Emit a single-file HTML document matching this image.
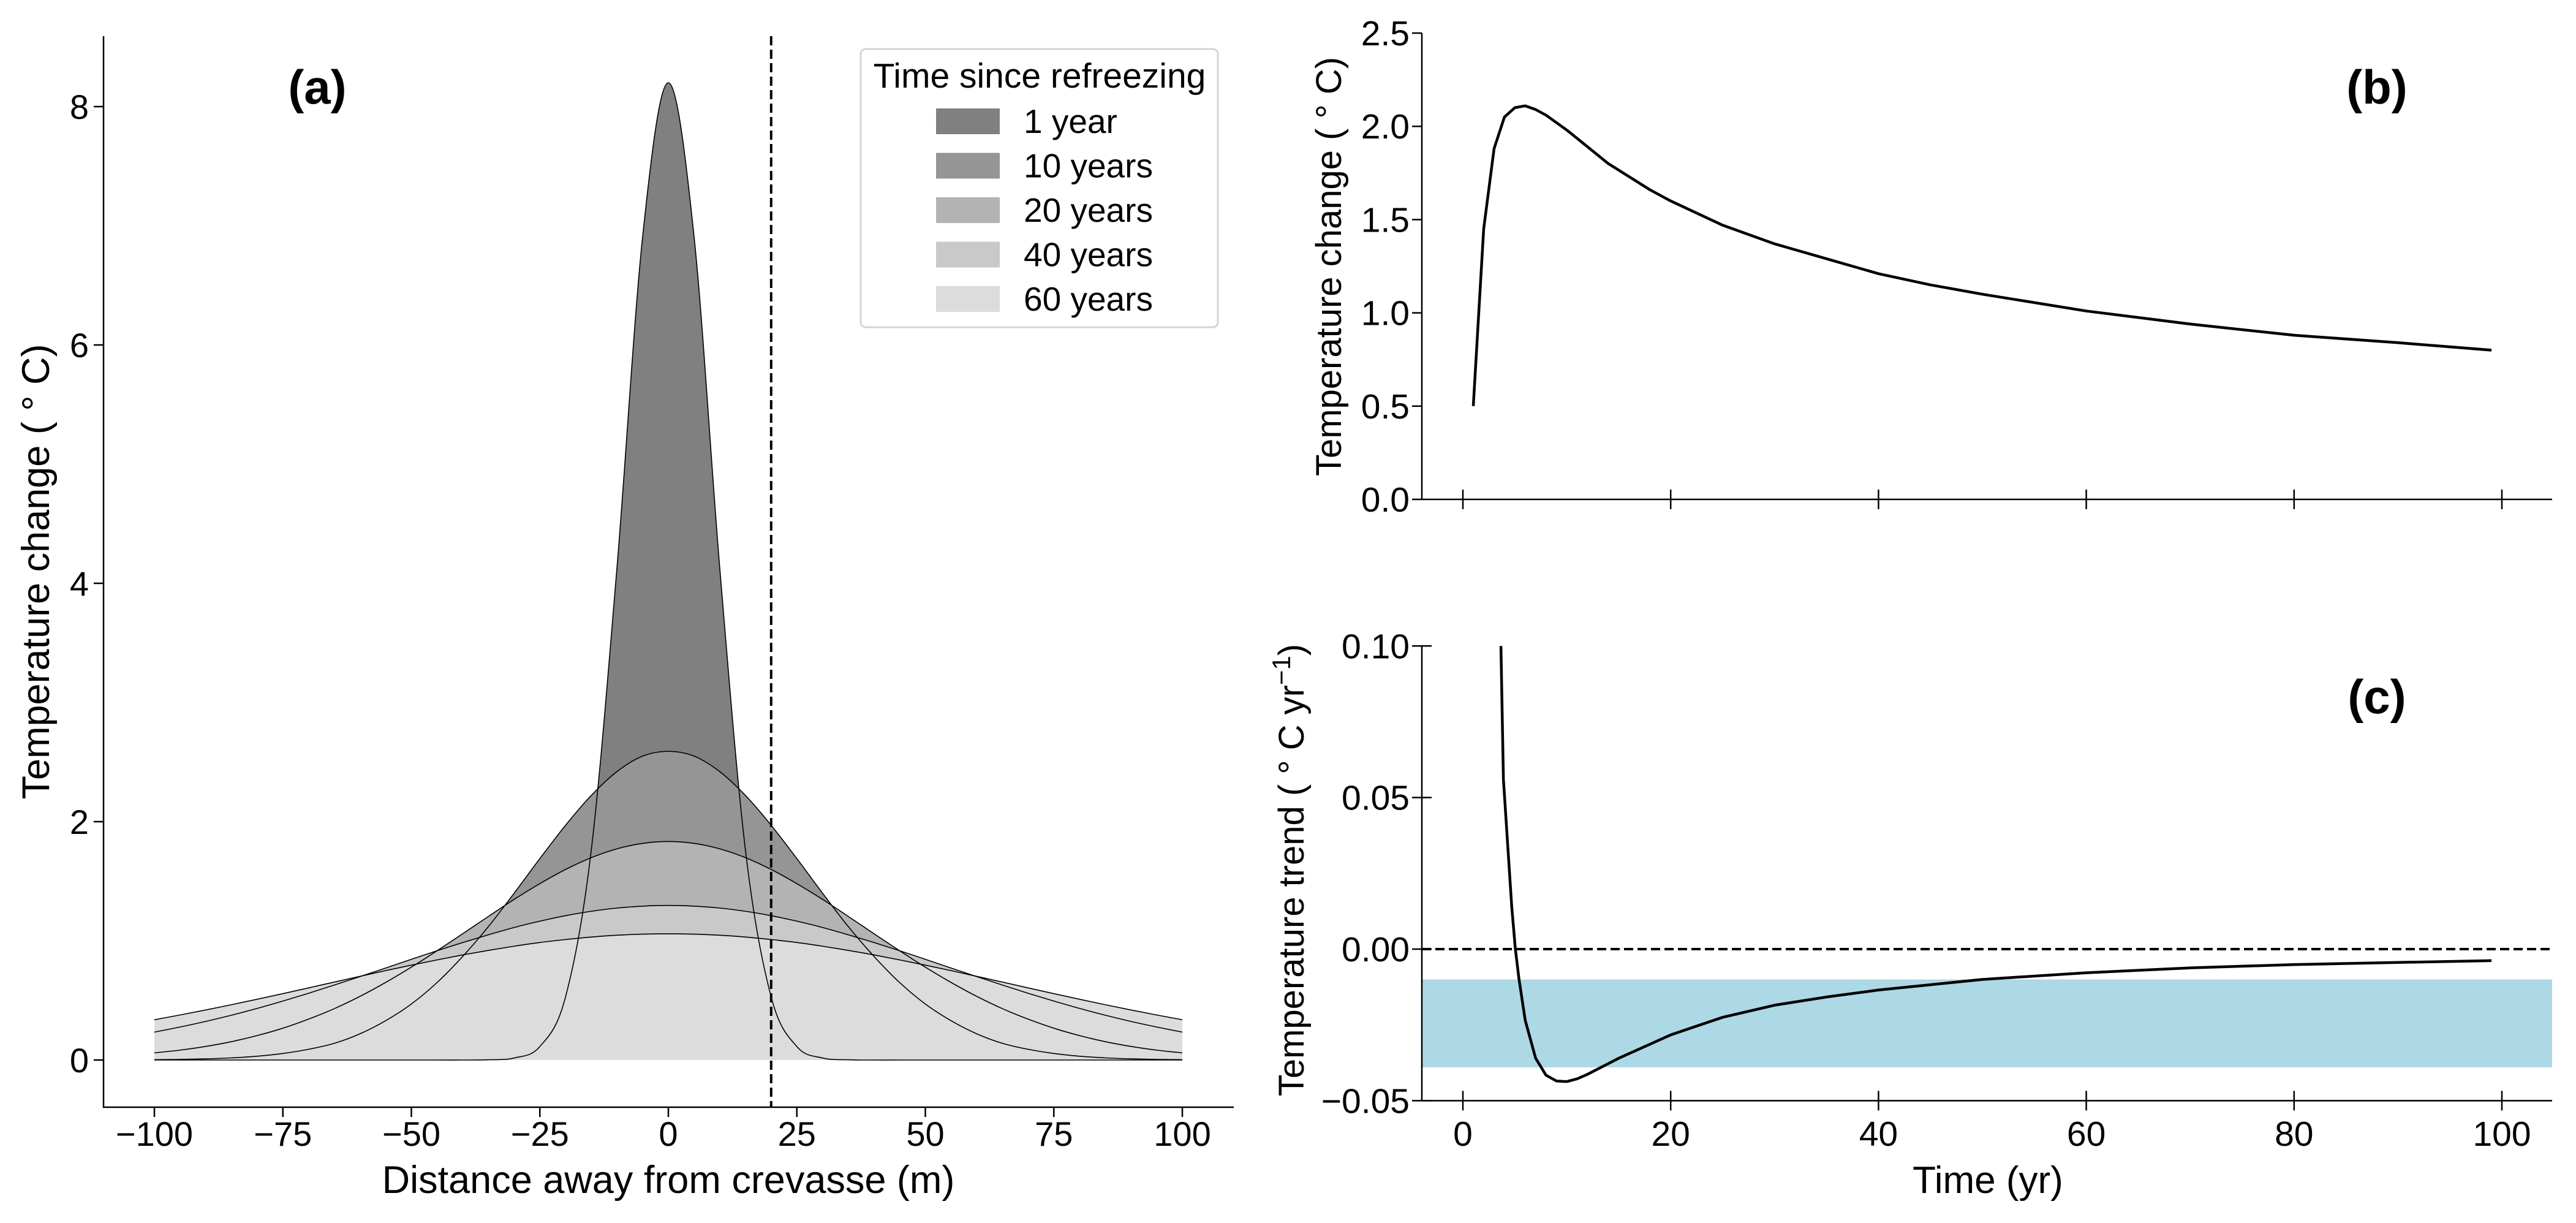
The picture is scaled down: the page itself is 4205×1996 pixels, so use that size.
<!DOCTYPE html>
<html><head><meta charset="utf-8"><style>
html,body{margin:0;padding:0;background:#fff}
svg{display:block;font-family:"Liberation Sans",Arial,sans-serif}
</style></head><body>
<svg id="fig" width="4205" height="1996" viewBox="0 0 4205 1996" xmlns="http://www.w3.org/2000/svg">
<g id="pa"></g>
<g id="pb"></g>
<g id="pc"></g>
</svg>
<script>
// ---- Panel (a) data ----
const distX = [-100,-95,-90,-85,-80,-75,-70,-65,-60,-55,-50,-45,-40,-35,-30,-25,-20,-15,-10,-5,0,5,10,15,20,25,30,35,40,45,50,55,60,65,70,75,80,85,90,95,100];
const halfYr1 = [8.2,6.91,4.13,1.76,0.53,0.113,0.017,0.002,0,0,0,0,0,0,0,0,0,0,0,0,0];
const halfYr10 = [2.59,2.55,2.42,2.22,1.97,1.69,1.40,1.12,0.87,0.65,0.47,0.33,0.22,0.14,0.09,0.055,0.032,0.018,0.010,0.005,0.003];
const halfYr20 = [1.834,1.818,1.772,1.698,1.599,1.480,1.348,1.205,1.060,0.917,0.779,0.651,0.534,0.431,0.343,0.267,0.205,0.154,0.114,0.083,0.060];
const halfYr40 = [1.297,1.291,1.275,1.248,1.211,1.165,1.112,1.051,0.986,0.917,0.845,0.772,0.700,0.629,0.560,0.495,0.433,0.376,0.324,0.277,0.234];
const halfYr60 = [1.059,1.056,1.047,1.032,1.011,0.986,0.955,0.920,0.882,0.840,0.796,0.750,0.702,0.654,0.605,0.557,0.510,0.464,0.420,0.378,0.338];
const seriesLabels = ["1 year","10 years","20 years","40 years","60 years"];
const seriesColors = ["#808080","#959595","#b3b3b3","#c9c9c9","#dcdcdc"];
const aXTicks = [-100,-75,-50,-25,0,25,50,75,100];
const aYTicks = [0,2,4,6,8];
const crevasseLine = 20;
// ---- Panel (b) data ----
const timeB = [1,2,3,4,5,6,7,8,10,12,14,16,18,20,25,30,35,40,45,50,60,70,80,90,99];
const tempB = [0.5,1.45,1.88,2.05,2.1,2.11,2.09,2.06,1.98,1.89,1.80,1.73,1.66,1.60,1.47,1.37,1.29,1.21,1.15,1.10,1.01,0.94,0.88,0.84,0.80];
const bYTicks = ["0.0","0.5","1.0","1.5","2.0","2.5"];
// ---- Panel (c) data ----
const timeC = [3.66,3.9,4.7,5.05,5.4,6,7,8,9,10,11,12,15,20,25,30,35,40,50,60,70,80,90,99];
const trendC = [0.10,0.056,0.014,0.0,-0.0099,-0.0235,-0.036,-0.0416,-0.0435,-0.0437,-0.0428,-0.0413,-0.036,-0.0283,-0.0225,-0.0185,-0.0158,-0.0135,-0.0100,-0.0078,-0.0062,-0.0051,-0.0044,-0.0038];
const cYTicks = ["0.10","0.05","0.00","−0.05"];
const cYTickVals = [0.10,0.05,0.0,-0.05];
const timeTicks = [0,20,40,60,80,100];
const bandRange = [-0.039,-0.01];

const NS="http://www.w3.org/2000/svg";
function mk(parent,tag,attrs){const e=document.createElementNS(NS,tag);for(const k in attrs)e.setAttribute(k,attrs[k]);parent.appendChild(e);return e;}
function txt(parent,s,x,y,size,anchor,extra){const t=mk(parent,'text',Object.assign({x:x,y:y,'font-size':size,'text-anchor':anchor||'middle',fill:'#000'},extra||{}));t.textContent=s;return t;}
function smooth(pts){let d='M'+pts[0][0]+','+pts[0][1];for(let i=0;i<pts.length-1;i++){const p0=pts[Math.max(0,i-1)],p1=pts[i],p2=pts[i+1],p3=pts[Math.min(pts.length-1,i+2)];const c1x=p1[0]+(p2[0]-p0[0])/6,c1y=p1[1]+(p2[1]-p0[1])/6,c2x=p2[0]-(p3[0]-p1[0])/6,c2y=p2[1]-(p3[1]-p1[1])/6;d+=' C'+c1x+','+c1y+' '+c2x+','+c2y+' '+p2[0]+','+p2[1];}return d;}
function full(half){const r=half.slice().reverse();return r.concat(half.slice(1));}

// ===== Panel a =====
const pa=document.getElementById('pa');
const ax=v=>1091+v*8.39, ay=v=>1730-v*194.5;
const A_TOP=59, A_BOT=1807;
const allSeries=[halfYr1,halfYr10,halfYr20,halfYr40,halfYr60].map(full);
allSeries.forEach((s,i)=>{
  const pts=distX.map((x,j)=>[ax(x),ay(s[j])]);
  const d=smooth(pts)+' L'+ax(distX[distX.length-1])+','+ay(0)+' L'+ax(distX[0])+','+ay(0)+' Z';
  const f=mk(pa,'path',{d:d,fill:seriesColors[i],stroke:'none'});
  
  
});
allSeries.forEach((s,i)=>{
  const pts=distX.map((x,j)=>[ax(x),ay(s[j])]);
  const l=mk(pa,'path',{d:smooth(pts),fill:'none',stroke:'#000','stroke-width':1.6});
  
  
});
const dl=mk(pa,'line',{x1:ax(crevasseLine),x2:ax(crevasseLine),y1:A_TOP,y2:A_BOT,stroke:'#000','stroke-width':4,'stroke-dasharray':'15,7'});


mk(pa,'path',{d:'M169,'+A_TOP+' V'+A_BOT+' H2014',fill:'none',stroke:'#000','stroke-width':2.5});
aXTicks.forEach(v=>{mk(pa,'line',{x1:ax(v),x2:ax(v),y1:A_BOT,y2:A_BOT+16,stroke:'#000','stroke-width':2.5});
  const t=txt(pa,v<0?'−'+(-v):String(v),ax(v),1870,56);
  
  });
aYTicks.forEach(v=>{mk(pa,'line',{x1:153,x2:169,y1:ay(v),y2:ay(v),stroke:'#000','stroke-width':2.5});
  const t=txt(pa,String(v),145,ay(v)+20,56,'end');
  
  });
let t=txt(pa,'Distance away from crevasse (m)',1091,1947,63);
t=txt(pa,'Temperature change ( ° C)',0,0,63,'middle',{transform:'translate(80,933) rotate(-90)'});
t=txt(pa,'(a)',518,169,78,'middle',{'font-weight':'bold'});
// legend
const lg=mk(pa,'g',{});


mk(lg,'rect',{x:1405,y:80,width:583,height:454,rx:8,fill:'#fff',stroke:'#d4d4d4','stroke-width':3});
t=txt(lg,'Time since refreezing',1697,143,57);
seriesLabels.forEach((s,i)=>{const cy=198+i*72.5;
  const r=mk(lg,'rect',{x:1528,y:cy-21,width:104,height:42,fill:seriesColors[i]});
  
  
  const tt=txt(lg,s,1671,cy+19,55,'start');
  
  });

// ===== Panel b =====
const pb=document.getElementById('pb');
const tx=v=>2388+v*16.96, by=v=>815-v*304.4;
mk(pb,'path',{d:'M2321,54 V815 H4166',fill:'none',stroke:'#000','stroke-width':2.5});
bYTicks.forEach(s=>{const v=parseFloat(s);mk(pb,'line',{x1:2305,x2:2321,y1:by(v),y2:by(v),stroke:'#000','stroke-width':2.5});
  const tt=txt(pb,s,2301,by(v)+20,57,'end');});
timeTicks.forEach(v=>{mk(pb,'line',{x1:tx(v),x2:tx(v),y1:799,y2:831,stroke:'#000','stroke-width':2.5});});
let ln=mk(pb,'path',{d:'M'+timeB.map((x,i)=>tx(x)+','+by(tempB[i])).join(' L'),fill:'none',stroke:'#000','stroke-width':4.5,'stroke-linejoin':'round'});


t=txt(pb,'Temperature change ( ° C)',0,0,58,'middle',{transform:'translate(2189,435) rotate(-90)'});
t=txt(pb,'(b)',3880,169,78,'middle',{'font-weight':'bold'});

// ===== Panel c =====
const pc=document.getElementById('pc');
const cy=v=>1549-v*4947;
const band=mk(pc,'rect',{x:2321,y:cy(bandRange[1]),width:4166-2321,height:cy(bandRange[0])-cy(bandRange[1]),fill:'#add8e6'});


const zl=mk(pc,'line',{x1:2321,x2:4166,y1:cy(0),y2:cy(0),stroke:'#000','stroke-width':4,'stroke-dasharray':'15,7'});


mk(pc,'path',{d:'M2321,'+cy(0.10)+' V'+cy(-0.05)+' H4166',fill:'none',stroke:'#000','stroke-width':2.5});
cYTickVals.forEach((v,i)=>{mk(pc,'line',{x1:2305,x2:2337,y1:cy(v),y2:cy(v),stroke:'#000','stroke-width':2.5});
  const tt=txt(pc,cYTicks[i],2301,cy(v)+20,57,'end');});
timeTicks.forEach(v=>{mk(pc,'line',{x1:tx(v),x2:tx(v),y1:cy(-0.05)-16,y2:cy(-0.05)+16,stroke:'#000','stroke-width':2.5});
  const tt=txt(pc,String(v),tx(v),1870,57);});
ln=mk(pc,'path',{d:'M'+timeC.map((x,i)=>tx(x)+','+cy(trendC[i])).join(' L'),fill:'none',stroke:'#000','stroke-width':4.5,'stroke-linejoin':'round'});


t=txt(pc,'Time (yr)',3245,1947,62);
const yl=txt(pc,'',0,0,58,'middle',{transform:'translate(2128,1420) rotate(-90)'});


yl.innerHTML='Temperature trend ( ° C yr<tspan dy="-22" font-size="42">−1</tspan><tspan dy="22">)</tspan>';
t=txt(pc,'(c)',3880,1164,78,'middle',{'font-weight':'bold'});
</script>
</body></html>
